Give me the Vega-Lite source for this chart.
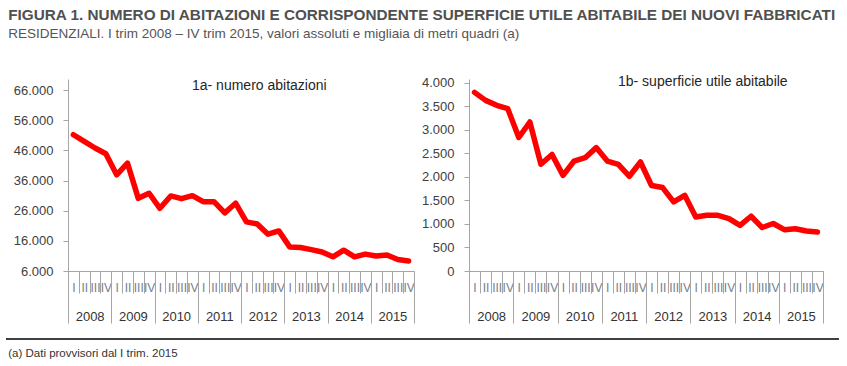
{
  "$schema": "https://vega.github.io/schema/vega-lite/v6.json",
  "padding": {"left": 5, "top": 8, "right": 5, "bottom": 5},
  "background": "white",
  "config": {
    "font": "Liberation Sans",
    "view": {"stroke": null},
    "axis": {"grid": false, "domainColor": "#a6a6a6", "tickColor": "#a6a6a6", "labelFont": "Liberation Sans", "labelColor": "#404040", "title": null}
  },
  "title": {
    "text": "FIGURA 1. NUMERO DI ABITAZIONI E CORRISPONDENTE SUPERFICIE UTILE ABITABILE DEI NUOVI FABBRICATI",
    "subtitle": "RESIDENZIALI. I trim 2008 – IV trim 2015, valori assoluti e migliaia di metri quadri (a)",
    "anchor": "start",
    "dx": 3,
    "fontSize": 15.3,
    "fontWeight": "bold",
    "color": "#505050",
    "subtitleFontSize": 13.5,
    "subtitleColor": "#555555",
    "subtitlePadding": 4,
    "offset": 34
  },
  "datasets": {
    "d": [
      {"t": "2008 I", "year": "2008", "ab": 51200, "sup": 3800},
      {"t": "2008 II", "year": "2008", "ab": 49000, "sup": 3630},
      {"t": "2008 III", "year": "2008", "ab": 46800, "sup": 3525},
      {"t": "2008 IV", "year": "2008", "ab": 44900, "sup": 3455},
      {"t": "2009 I", "year": "2009", "ab": 37900, "sup": 2840},
      {"t": "2009 II", "year": "2009", "ab": 41800, "sup": 3170},
      {"t": "2009 III", "year": "2009", "ab": 30100, "sup": 2270},
      {"t": "2009 IV", "year": "2009", "ab": 31800, "sup": 2480},
      {"t": "2010 I", "year": "2010", "ab": 26800, "sup": 2035},
      {"t": "2010 II", "year": "2010", "ab": 30900, "sup": 2340},
      {"t": "2010 III", "year": "2010", "ab": 30000, "sup": 2410},
      {"t": "2010 IV", "year": "2010", "ab": 31000, "sup": 2625},
      {"t": "2011 I", "year": "2011", "ab": 29000, "sup": 2340},
      {"t": "2011 II", "year": "2011", "ab": 29000, "sup": 2270},
      {"t": "2011 III", "year": "2011", "ab": 25300, "sup": 2015},
      {"t": "2011 IV", "year": "2011", "ab": 28500, "sup": 2320},
      {"t": "2012 I", "year": "2012", "ab": 22300, "sup": 1820},
      {"t": "2012 II", "year": "2012", "ab": 21600, "sup": 1775},
      {"t": "2012 III", "year": "2012", "ab": 18200, "sup": 1470},
      {"t": "2012 IV", "year": "2012", "ab": 19300, "sup": 1610},
      {"t": "2013 I", "year": "2013", "ab": 14000, "sup": 1150},
      {"t": "2013 II", "year": "2013", "ab": 13800, "sup": 1185},
      {"t": "2013 III", "year": "2013", "ab": 13100, "sup": 1185},
      {"t": "2013 IV", "year": "2013", "ab": 12300, "sup": 1115},
      {"t": "2014 I", "year": "2014", "ab": 10700, "sup": 970},
      {"t": "2014 II", "year": "2014", "ab": 12900, "sup": 1165},
      {"t": "2014 III", "year": "2014", "ab": 10700, "sup": 925},
      {"t": "2014 IV", "year": "2014", "ab": 11600, "sup": 1010},
      {"t": "2015 I", "year": "2015", "ab": 11000, "sup": 880},
      {"t": "2015 II", "year": "2015", "ab": 11300, "sup": 900},
      {"t": "2015 III", "year": "2015", "ab": 9800, "sup": 850},
      {"t": "2015 IV", "year": "2015", "ab": 9300, "sup": 830}
    ]
  },
  "vconcat": [
    {
      "hconcat": [
        {
          "width": 346,
          "height": 192,
          "title": {"text": "1a- numero abitazioni", "anchor": "start", "frame": "group", "dx": 124, "offset": -25, "baseline": "alphabetic", "fontSize": 14, "fontWeight": "normal", "color": "#262626"},
          "data": {"name": "d"},
          "layer": [
            {
              "mark": {"type": "line", "color": "#ff0000", "strokeWidth": 5.5, "strokeJoin": "round", "strokeCap": "round"},
              "encoding": {
                "x": {"field": "t", "type": "ordinal", "sort": null, "bandPosition": 0.5,
                  "scale": {"type": "band", "paddingInner": 0, "paddingOuter": 0},
                  "axis": {"orient": "bottom", "labelExpr": "split(datum.label, ' ')[1]", "tickBand": "extent", "tickSize": 22, "labelPadding": -11, "labelBaseline": "top", "labelAngle": 0, "labelFontSize": 12, "labelColor": "#75808e", "labelOverlap": false, "title": null}},
                "y": {"field": "ab", "type": "quantitative",
                  "scale": {"domain": [6000, 69700], "nice": false, "zero": false},
                  "axis": {"values": [6000, 16000, 26000, 36000, 46000, 56000, 66000], "labelExpr": "replace(format(datum.value, ','), ',', '.')", "labelOverlap": false, "tickSize": 5, "labelFontSize": 13, "labelPadding": 10, "minExtent": 62, "title": null}}
              }
            },
            {
              "mark": {"type": "point", "opacity": 0},
              "encoding": {
                "x": {"field": "year", "type": "ordinal", "sort": null,
                  "scale": {"type": "band", "paddingInner": 0, "paddingOuter": 0},
                  "axis": {"orient": "bottom", "domain": false, "tickBand": "extent", "tickSize": 52, "labelPadding": -13, "labelBaseline": "top", "labelAngle": 0, "labelFontSize": 13, "labelColor": "#333333", "title": null}}
              }
            }
          ],
          "resolve": {"scale": {"x": "independent"}, "axis": {"x": "independent"}}
        },
        {
          "width": 354,
          "height": 192,
          "title": {"text": "1b- superficie utile abitabile", "anchor": "start", "frame": "group", "dx": 149, "offset": -23, "baseline": "alphabetic", "fontSize": 14, "fontWeight": "normal", "color": "#262626"},
          "data": {"name": "d"},
          "layer": [
            {
              "mark": {"type": "line", "color": "#ff0000", "strokeWidth": 5.5, "strokeJoin": "round", "strokeCap": "round"},
              "encoding": {
                "x": {"field": "t", "type": "ordinal", "sort": null, "bandPosition": 0.5,
                  "scale": {"type": "band", "paddingInner": 0, "paddingOuter": 0},
                  "axis": {"orient": "bottom", "labelExpr": "split(datum.label, ' ')[1]", "tickBand": "extent", "tickSize": 22, "labelPadding": -11, "labelBaseline": "top", "labelAngle": 0, "labelFontSize": 12, "labelColor": "#75808e", "labelOverlap": false, "title": null}},
                "y": {"field": "sup", "type": "quantitative",
                  "scale": {"domain": [0, 4085], "nice": false, "zero": false},
                  "axis": {"values": [0, 500, 1000, 1500, 2000, 2500, 3000, 3500, 4000], "labelExpr": "replace(format(datum.value, ','), ',', '.')", "labelOverlap": false, "tickSize": 5, "labelFontSize": 13, "labelPadding": 10, "title": null}}
              }
            },
            {
              "mark": {"type": "point", "opacity": 0},
              "encoding": {
                "x": {"field": "year", "type": "ordinal", "sort": null,
                  "scale": {"type": "band", "paddingInner": 0, "paddingOuter": 0},
                  "axis": {"orient": "bottom", "domain": false, "tickBand": "extent", "tickSize": 52, "labelPadding": -13, "labelBaseline": "top", "labelAngle": 0, "labelFontSize": 13, "labelColor": "#333333", "title": null}}
              }
            }
          ],
          "resolve": {"scale": {"x": "independent"}, "axis": {"x": "independent"}}
        }
      ],
      "spacing": 55,
      "bounds": "flush"
    },
    {
      "width": 771,
      "height": 1,
      "data": {"values": [{"x1": -62, "x2": 771}]},
      "mark": {"type": "rule", "color": "#000000", "strokeWidth": 1.5, "clip": false},
      "encoding": {
        "x": {"field": "x1", "type": "quantitative", "scale": {"domain": [0, 771], "nice": false, "zero": false}, "axis": null},
        "x2": {"field": "x2"},
        "y": {"value": 0}
      },
      "title": {"text": "(a) Dati provvisori dal I trim. 2015", "orient": "bottom", "anchor": "start", "frame": "bounds", "dx": 3, "fontSize": 11.5, "fontWeight": "normal", "color": "#333333", "offset": 8}
    }
  ],
  "spacing": 14
}
